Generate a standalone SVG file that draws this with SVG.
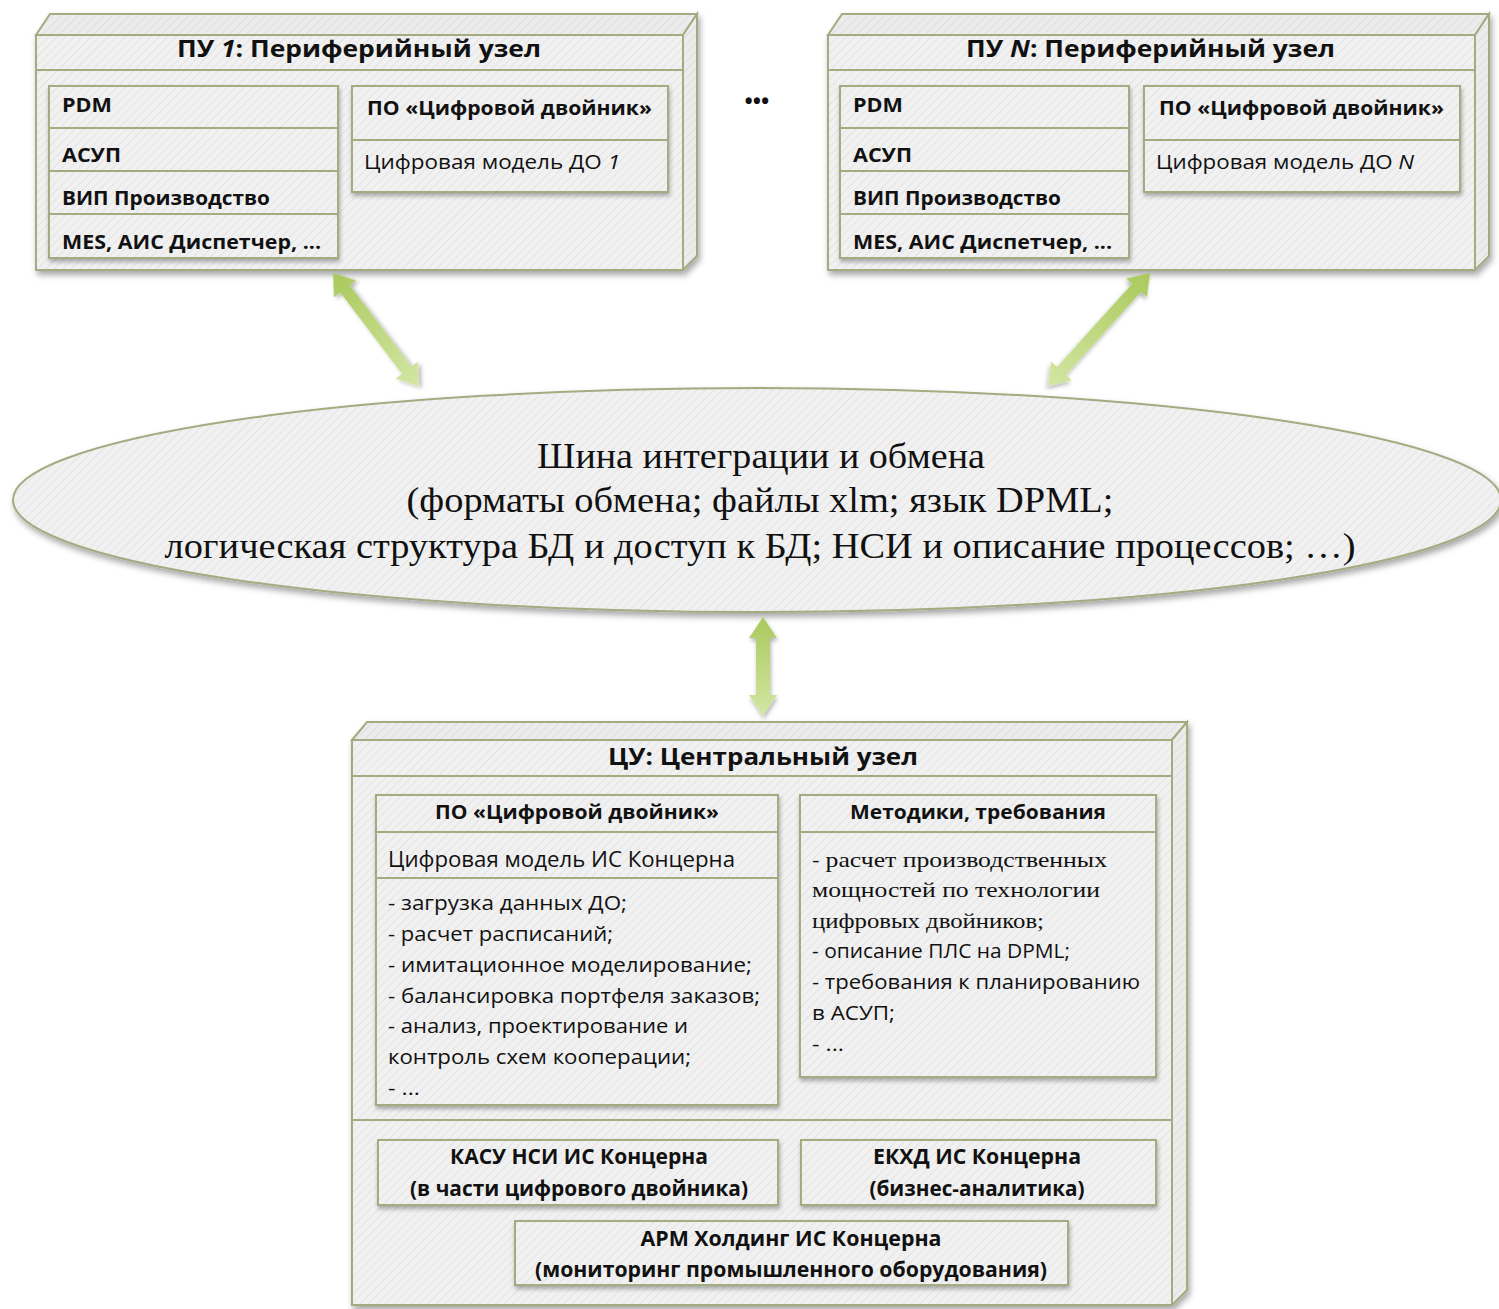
<svg xmlns="http://www.w3.org/2000/svg" width="1499" height="1309" viewBox="0 0 1499 1309">
<defs>
  <pattern id="hatch" width="6" height="6" patternUnits="userSpaceOnUse" patternTransform="rotate(45)">
    <rect width="6" height="6" fill="#f1f1f1"/>
    <line x1="0" y1="0" x2="0" y2="6" stroke="#e3e3e3" stroke-width="2"/>
  </pattern>
  <pattern id="hatch2" width="6" height="6" patternUnits="userSpaceOnUse" patternTransform="rotate(45)">
    <rect width="6" height="6" fill="#ececec"/>
    <line x1="0" y1="0" x2="0" y2="6" stroke="#dedede" stroke-width="2"/>
  </pattern>
  <filter id="sh" x="-10%" y="-10%" width="120%" height="130%">
    <feDropShadow dx="2" dy="4" stdDeviation="3" flood-color="#000" flood-opacity="0.35"/>
  </filter>
  <filter id="shs" x="-10%" y="-20%" width="120%" height="150%">
    <feDropShadow dx="1" dy="3" stdDeviation="2" flood-color="#000" flood-opacity="0.3"/>
  </filter>
  <linearGradient id="ag" x1="0" y1="0" x2="0" y2="1">
    <stop offset="0" stop-color="#a9c95c"/>
    <stop offset="1" stop-color="#d3e6a3"/>
  </linearGradient>
  <style>
    .face{fill:url(#hatch);stroke:#a4ab80;stroke-width:2}
    .side{fill:url(#hatch2);stroke:#a4ab80;stroke-width:2}
    .box{fill:url(#hatch);stroke:#a4ab80;stroke-width:2}
    .ln{stroke:#a4ab80;stroke-width:2;fill:none}
    .t{font-family:"Open Sans","Noto Sans",sans-serif;fill:#111}
    .b{font-weight:bold}
    .s{font-family:"Liberation Serif","Times New Roman",serif;fill:#111}
    .arr{fill:url(#ag);filter:url(#shs)}
  </style>
</defs>

<!-- Peripheral node 1 -->
<g id="pu1">
  <g filter="url(#sh)">
    <polygon class="side" points="36,35 50,14 697,14 683,35"/>
    <polygon class="side" points="683,35 697,14 697,256 683,270"/>
    <rect class="face" x="36" y="35" width="647" height="235"/>
  </g>
  <line class="ln" x1="36" y1="70" x2="683" y2="70"/>
  <text class="t b" x="177" y="57" font-size="23" textLength="364" lengthAdjust="spacingAndGlyphs">ПУ <tspan font-style="italic">1</tspan>: Периферийный узел</text>
  <g filter="url(#shs)">
    <rect class="box" x="49" y="86" width="289" height="42"/>
    <rect class="box" x="49" y="128" width="289" height="43"/>
    <rect class="box" x="49" y="171" width="289" height="43"/>
    <rect class="box" x="49" y="214" width="289" height="44"/>
  </g>
  <text class="t b" x="62" y="112" font-size="20" textLength="50" lengthAdjust="spacingAndGlyphs">PDM</text>
  <text class="t b" x="62" y="162" font-size="20" textLength="59" lengthAdjust="spacingAndGlyphs">АСУП</text>
  <text class="t b" x="62" y="205" font-size="20" textLength="208" lengthAdjust="spacingAndGlyphs">ВИП Производство</text>
  <text class="t b" x="62" y="249" font-size="20" textLength="259" lengthAdjust="spacingAndGlyphs">MES, АИС Диспетчер, ...</text>
  <g filter="url(#shs)">
    <rect class="box" x="352" y="86" width="316" height="54"/>
    <rect class="box" x="352" y="140" width="316" height="52"/>
  </g>
  <text class="t b" x="367" y="115" font-size="20" textLength="285" lengthAdjust="spacingAndGlyphs">ПО «Цифровой двойник»</text>
  <text class="t" x="364" y="169" font-size="20" textLength="256" lengthAdjust="spacingAndGlyphs">Цифровая модель ДО <tspan font-style="italic">1</tspan></text>
</g>

<!-- ellipsis between nodes -->
<text id="dots" class="t b" x="757" y="109" font-size="22" text-anchor="middle">•••</text>

<!-- Peripheral node N -->
<g id="puN">
  <g filter="url(#sh)">
    <polygon class="side" points="828,35 842,14 1489,14 1475,35"/>
    <polygon class="side" points="1475,35 1489,14 1489,256 1475,270"/>
    <rect class="face" x="828" y="35" width="647" height="235"/>
  </g>
  <line class="ln" x1="828" y1="70" x2="1475" y2="70"/>
  <text class="t b" x="966" y="57" font-size="23" textLength="369" lengthAdjust="spacingAndGlyphs">ПУ <tspan font-style="italic">N</tspan>: Периферийный узел</text>
  <g filter="url(#shs)">
    <rect class="box" x="840" y="86" width="289" height="42"/>
    <rect class="box" x="840" y="128" width="289" height="43"/>
    <rect class="box" x="840" y="171" width="289" height="43"/>
    <rect class="box" x="840" y="214" width="289" height="44"/>
  </g>
  <text class="t b" x="853" y="112" font-size="20" textLength="50" lengthAdjust="spacingAndGlyphs">PDM</text>
  <text class="t b" x="853" y="162" font-size="20" textLength="59" lengthAdjust="spacingAndGlyphs">АСУП</text>
  <text class="t b" x="853" y="205" font-size="20" textLength="208" lengthAdjust="spacingAndGlyphs">ВИП Производство</text>
  <text class="t b" x="853" y="249" font-size="20" textLength="259" lengthAdjust="spacingAndGlyphs">MES, АИС Диспетчер, ...</text>
  <g filter="url(#shs)">
    <rect class="box" x="1144" y="86" width="316" height="54"/>
    <rect class="box" x="1144" y="140" width="316" height="52"/>
  </g>
  <text class="t b" x="1159" y="115" font-size="20" textLength="285" lengthAdjust="spacingAndGlyphs">ПО «Цифровой двойник»</text>
  <text class="t" x="1156" y="169" font-size="20" textLength="258" lengthAdjust="spacingAndGlyphs">Цифровая модель ДО <tspan font-style="italic">N</tspan></text>
</g>

<!-- Integration bus -->
<g id="bus">
  <ellipse cx="757" cy="500" rx="744" ry="112" class="face" filter="url(#sh)"/>
  <text class="s" x="761" y="468" font-size="35" text-anchor="middle" textLength="448" lengthAdjust="spacingAndGlyphs">Шина интеграции и обмена</text>
  <text class="s" x="760" y="512" font-size="35" text-anchor="middle" textLength="707" lengthAdjust="spacingAndGlyphs">(форматы обмена; файлы xlm; язык DPML;</text>
  <text class="s" x="760" y="558" font-size="35" text-anchor="middle" textLength="1191" lengthAdjust="spacingAndGlyphs">логическая структура БД и доступ к БД; НСИ и описание процессов; …)</text>
</g>

<!-- Connectors -->
<g id="connectors">
  <g transform="translate(333,273) rotate(-37.2)">
    <polygon class="arr" points="0,0 14,20 6,20 6,122 14,122 0,142 -14,122 -6,122 -6,20 -14,20"/>
  </g>
  <g transform="translate(1150,273) rotate(42.1)">
    <polygon class="arr" points="0,0 14,20 6,20 6,132 14,132 0,152 -14,132 -6,132 -6,20 -14,20"/>
  </g>
  <polygon class="arr" points="763,617 777,638 770,638 770,695 777,695 763,716 749,695 756,695 756,638 749,638"/>
</g>

<!-- Central node -->
<g id="cu">
  <g filter="url(#sh)">
    <polygon class="side" points="352,740 367,722 1187,722 1172,740"/>
    <polygon class="side" points="1172,740 1187,722 1187,1290 1172,1305"/>
    <rect class="face" x="352" y="740" width="820" height="565"/>
  </g>
  <line class="ln" x1="352" y1="776" x2="1172" y2="776"/>
  <line class="ln" x1="352" y1="1120" x2="1172" y2="1120"/>
  <text class="t b" x="763" y="765" font-size="23" text-anchor="middle" textLength="310" lengthAdjust="spacingAndGlyphs">ЦУ: Центральный узел</text>

  <g id="cu-po">
    <g filter="url(#shs)">
      <rect class="box" x="376" y="795" width="402" height="37"/>
      <rect class="box" x="376" y="832" width="402" height="46"/>
      <rect class="box" x="376" y="878" width="402" height="227"/>
    </g>
    <text class="t b" x="577" y="819" font-size="20" text-anchor="middle" textLength="284" lengthAdjust="spacingAndGlyphs">ПО «Цифровой двойник»</text>
    <text class="t" x="388" y="867" font-size="21" textLength="347" lengthAdjust="spacingAndGlyphs">Цифровая модель ИС Концерна</text>
    <g class="t" font-size="20">
      <text x="388" y="910" textLength="239" lengthAdjust="spacingAndGlyphs">- загрузка данных ДО;</text>
      <text x="388" y="941" textLength="225" lengthAdjust="spacingAndGlyphs">- расчет расписаний;</text>
      <text x="388" y="972" textLength="364" lengthAdjust="spacingAndGlyphs">- имитационное моделирование;</text>
      <text x="388" y="1003" textLength="372" lengthAdjust="spacingAndGlyphs">- балансировка портфеля заказов;</text>
      <text x="388" y="1033" textLength="300" lengthAdjust="spacingAndGlyphs">- анализ, проектирование и</text>
      <text x="388" y="1064" textLength="303" lengthAdjust="spacingAndGlyphs">контроль схем кооперации;</text>
      <text x="388" y="1095" textLength="32" lengthAdjust="spacingAndGlyphs">- ...</text>
    </g>
  </g>

  <g id="cu-met">
    <g filter="url(#shs)">
      <rect class="box" x="800" y="795" width="356" height="37"/>
      <rect class="box" x="800" y="832" width="356" height="245"/>
    </g>
    <text class="t b" x="978" y="819" font-size="20" text-anchor="middle" textLength="256" lengthAdjust="spacingAndGlyphs">Методики, требования</text>
    <g class="t" font-size="20">
      <text x="812" y="867" textLength="295" lengthAdjust="spacingAndGlyphs">- <tspan font-family="Liberation Serif, serif" font-size="22">расчет производственных</tspan></text>
      <text x="812" y="897" font-family="Liberation Serif, serif" font-size="22" textLength="288" lengthAdjust="spacingAndGlyphs">мощностей по технологии</text>
      <text x="812" y="928" font-family="Liberation Serif, serif" font-size="22" textLength="232" lengthAdjust="spacingAndGlyphs">цифровых двойников;</text>
      <text x="812" y="958" textLength="258" lengthAdjust="spacingAndGlyphs">- описание ПЛС на DPML;</text>
      <text x="812" y="989" textLength="328" lengthAdjust="spacingAndGlyphs">- требования к планированию</text>
      <text x="812" y="1020" textLength="83" lengthAdjust="spacingAndGlyphs">в АСУП;</text>
      <text x="812" y="1051" textLength="32" lengthAdjust="spacingAndGlyphs">- ...</text>
    </g>
  </g>

  <g id="cu-kasu">
    <rect class="box" x="378" y="1140" width="400" height="65" filter="url(#shs)"/>
    <text class="t b" x="579" y="1164" font-size="21" text-anchor="middle" textLength="258" lengthAdjust="spacingAndGlyphs">КАСУ НСИ ИС Концерна</text>
    <text class="t b" x="579" y="1196" font-size="21" text-anchor="middle" textLength="338" lengthAdjust="spacingAndGlyphs">(в части цифрового двойника)</text>
  </g>
  <g id="cu-ekhd">
    <rect class="box" x="801" y="1140" width="355" height="65" filter="url(#shs)"/>
    <text class="t b" x="977" y="1164" font-size="21" text-anchor="middle" textLength="208" lengthAdjust="spacingAndGlyphs">ЕКХД ИС Концерна</text>
    <text class="t b" x="977" y="1196" font-size="21" text-anchor="middle" textLength="215" lengthAdjust="spacingAndGlyphs">(бизнес-аналитика)</text>
  </g>
  <g id="cu-arm">
    <rect class="box" x="515" y="1221" width="553" height="64" filter="url(#shs)"/>
    <text class="t b" x="791" y="1246" font-size="21" text-anchor="middle" textLength="301" lengthAdjust="spacingAndGlyphs">АРМ Холдинг ИС Концерна</text>
    <text class="t b" x="791" y="1277" font-size="21" text-anchor="middle" textLength="512" lengthAdjust="spacingAndGlyphs">(мониторинг промышленного оборудования)</text>
  </g>
</g>
</svg>
